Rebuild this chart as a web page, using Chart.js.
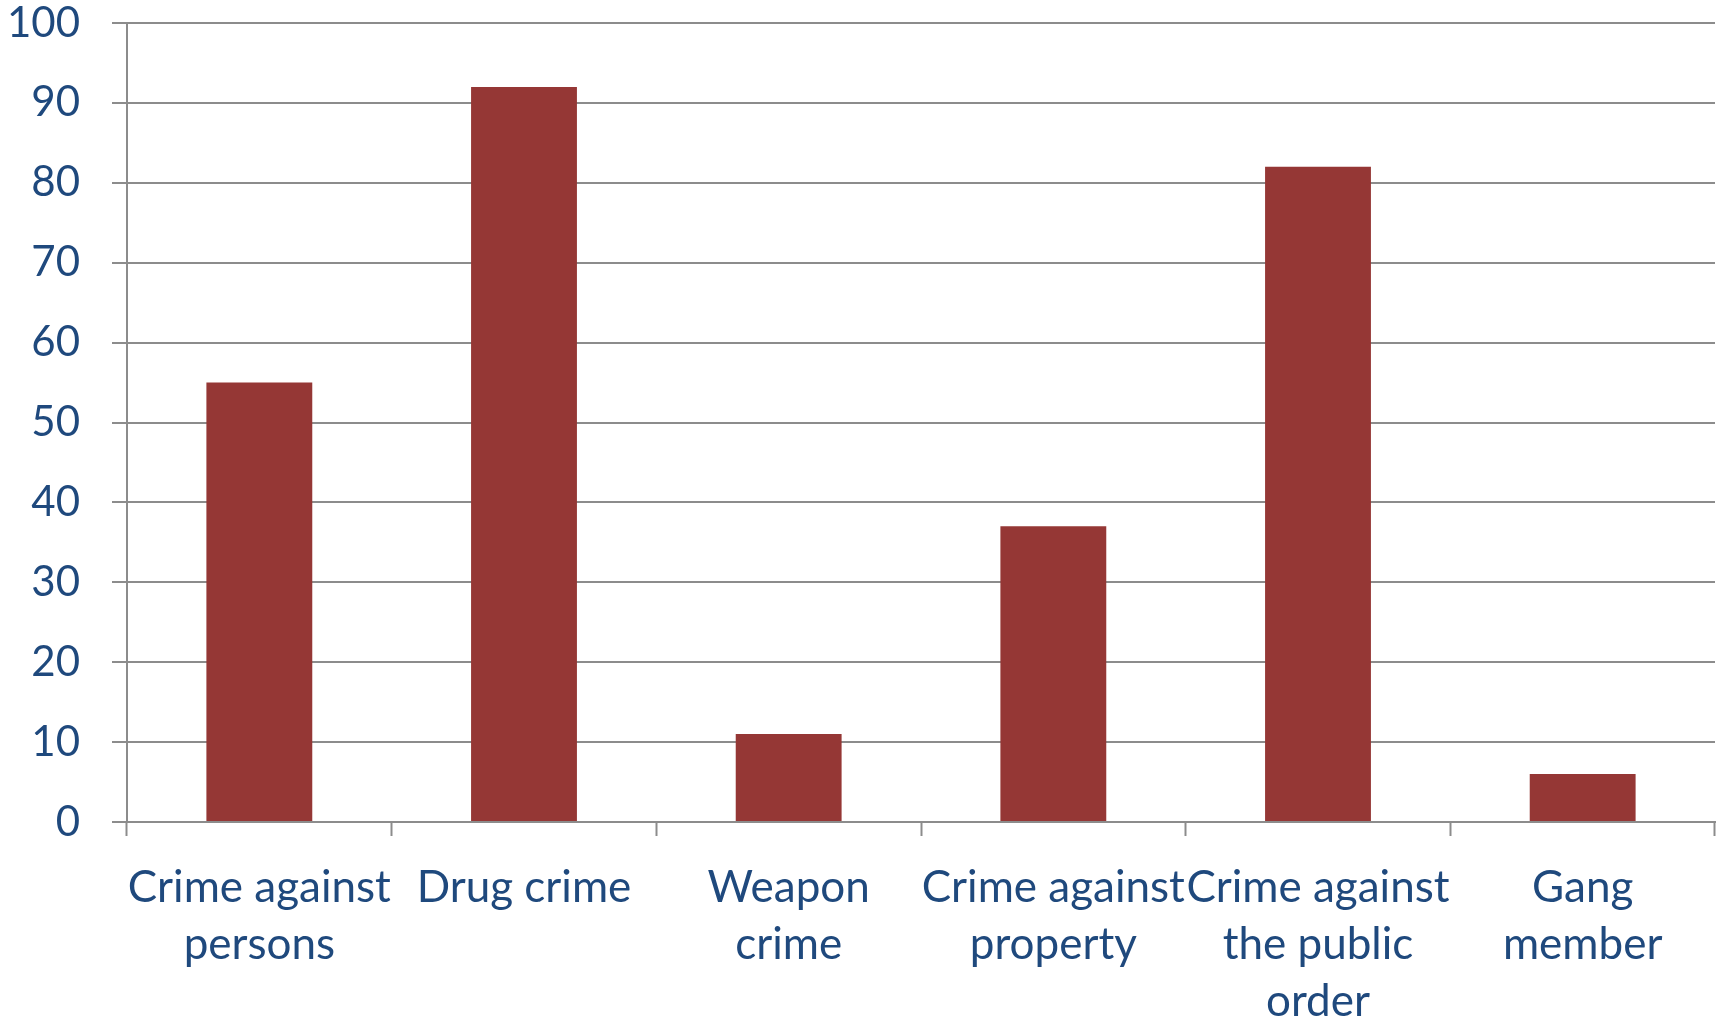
<!DOCTYPE html>
<html>
<head>
<meta charset="utf-8">
<script src="https://cdn.jsdelivr.net/npm/chart.js@4"></script>
<style>
  html, body { margin: 0; padding: 0; background: #ffffff; }
  #wrap { width: 1729px; height: 1020px; position: relative; }
</style>
</head>
<body>
<div id="wrap"><canvas id="c" width="1729" height="1020"></canvas></div>
<script>
const categories = [
  ["Crime against", "persons"],
  ["Drug crime"],
  ["Weapon", "crime"],
  ["Crime against", "property"],
  ["Crime against", "the public", "order"],
  ["Gang", "member"]
];
const values = [55, 92, 11, 37, 82, 6];
const yTicks = [0, 10, 20, 30, 40, 50, 60, 70, 80, 90, 100];

const textColor = '#1F497D';
const gridColor = '#8C8C8C';
const fontFamily = 'Lato, "Open Sans", sans-serif';

new Chart(document.getElementById('c'), {
  type: 'bar',
  data: {
    labels: categories,
    datasets: [{
      data: values,
      backgroundColor: '#953735',
      borderWidth: 0,
      barPercentage: 0.4,
      categoryPercentage: 1.0
    }]
  },
  options: {
    responsive: false,
    animation: false,
    devicePixelRatio: 1,
    layout: { padding: { top: 23, right: 14, left: 0, bottom: 0 } },
    plugins: { legend: { display: false }, tooltip: { enabled: false } },
    scales: {
      x: {
        offset: true,
        grid: {
          offset: true,
          drawOnChartArea: false,
          drawTicks: true,
          tickLength: 14,
          tickWidth: 2,
          tickColor: gridColor
        },
        border: { display: true, color: gridColor, width: 2 },
        ticks: {
          color: textColor,
          font: { family: fontFamily, size: 44, lineHeight: 1.30 },
          padding: 23,
          maxRotation: 0,
          minRotation: 0,
          autoSkip: false
        },
        afterFit: (scale) => { scale.height = 198; scale.paddingLeft = 0; scale.paddingRight = 0; }
      },
      y: {
        min: 0,
        max: 100,
        afterBuildTicks: (scale) => { scale.ticks = yTicks.map(v => ({ value: v })); },
        grid: {
          color: gridColor,
          lineWidth: 2,
          drawTicks: true,
          tickLength: 15,
          tickColor: gridColor,
          tickWidth: 2
        },
        border: { display: true, color: gridColor, width: 2 },
        ticks: {
          color: textColor,
          font: { family: fontFamily, size: 42 },
          padding: 32
        },
        afterFit: (scale) => { scale.width = 127; scale.paddingTop = 0; scale.paddingBottom = 0; }
      }
    }
  }
});
</script>
</body>
</html>
